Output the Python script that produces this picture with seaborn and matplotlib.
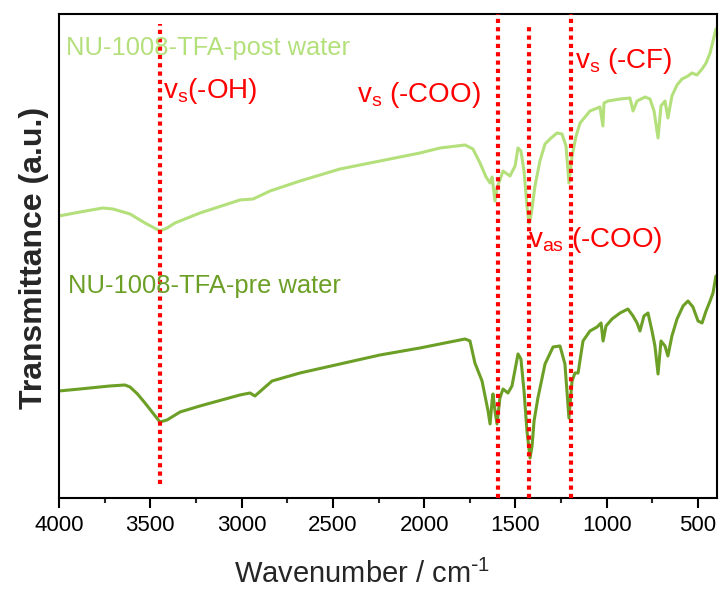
import matplotlib
matplotlib.use("Agg")
import matplotlib.pyplot as plt
import seaborn as sns
import pandas as pd
from matplotlib.ticker import MultipleLocator

# ---------------- data ----------------
series_names = ["NU-1008-TFA-post water", "NU-1008-TFA-pre water"]

post_wn = [4000, 3885, 3759, 3704, 3611, 3529, 3447, 3408, 3365, 3228, 3009, 2937,
           2844, 2680, 2461, 2242, 2023, 1913, 1776, 1733, 1694, 1661, 1639, 1628,
           1612, 1601, 1568, 1530, 1502, 1486, 1470, 1453, 1437, 1426, 1415, 1393,
           1366, 1338, 1305, 1272, 1245, 1223, 1207, 1190, 1168, 1146, 1092, 1037,
           1021, 1015, 993, 927, 873, 856, 834, 790, 763, 741, 719, 703, 681, 665,
           643, 615, 588, 555, 533, 506, 478, 456, 434, 418, 402]
post_t = [282, 286, 290, 289, 284, 275, 267, 270, 275, 285, 298, 299,
          307, 317, 329, 337, 345, 350, 353, 349, 335, 321, 315, 321,
          297, 310, 327, 322, 332, 350, 347, 327, 292, 275, 282, 312,
          337, 354, 360, 365, 364, 352, 315, 342, 362, 375, 387, 391,
          372, 395, 397, 399, 400, 387, 397, 401, 399, 387, 360, 392, 397, 380,
          402, 413, 419, 422, 425, 423, 429, 435, 445, 457, 469]

pre_wn = [4000, 3885, 3721, 3639, 3611, 3570, 3529, 3447, 3408, 3337, 3228, 3009, 2954,
          2927, 2833, 2680, 2461, 2242, 2023, 1859, 1776, 1749, 1722, 1683, 1650,
          1639, 1628, 1623, 1612, 1601, 1585, 1568, 1541, 1519, 1486, 1470, 1453,
          1437, 1420, 1409, 1398, 1377, 1338, 1294, 1256, 1229, 1207, 1190, 1174,
          1157, 1130, 1092, 1053, 1031, 1020, 1004, 971, 927, 884, 856, 834, 818,
          796, 774, 752, 736, 719, 703, 681, 665, 643, 615, 582, 555, 528, 500,
          478, 456, 434, 418, 402]
pre_t = [107, 109, 112, 113, 111, 104, 95, 76, 78, 86, 92, 103, 105,
         102, 117, 125, 134, 143, 150, 156, 159, 157, 135, 117, 87,
         74, 97, 104, 87, 74, 100, 109, 105, 112, 144, 139, 107,
         67, 40, 52, 77, 100, 134, 151, 152, 134, 80, 117, 125,
         125, 157, 167, 171, 175, 157, 172, 179, 185, 189, 182, 175, 167,
         182, 185, 167, 152, 124, 157, 152, 142, 162, 179, 192, 197, 191, 177,
         175, 187, 197, 205, 222]

band_positions = [3447, 1598, 1426, 1196]
band_labels = ["v$_{s}$(-OH)", "v$_{s}$ (-COO)", "v$_{as}$ (-COO)", "v$_{s}$ (-CF)"]
x_ticks = [4000, 3500, 3000, 2500, 2000, 1500, 1000, 500]

# ---------------- styling ----------------
post_color = "#B4E07C"
pre_color = "#6C9F26"
red = "#FF0000"

sns.set_style("white")
plt.rcParams["font.family"] = ["Liberation Sans", "DejaVu Sans"]
plt.rcParams["mathtext.default"] = "regular"

df = pd.concat([
    pd.DataFrame({"wn": post_wn, "t": post_t, "sample": series_names[0]}),
    pd.DataFrame({"wn": pre_wn, "t": pre_t, "sample": series_names[1]}),
], ignore_index=True)

fig = plt.figure(figsize=(7.22, 5.91), dpi=100)
ax = fig.add_axes([0.0817, 0.1574, 0.9114, 0.8189])

sns.lineplot(data=df, x="wn", y="t", hue="sample",
             palette={series_names[0]: post_color, series_names[1]: pre_color},
             estimator=None, linewidth=2.2, legend=False, ax=ax)

# dotted marker lines for band assignments
band_spans = [(14, 474), (0, 484), (0, 474), (0, 484)]
for pos, (y0, y1) in zip(band_positions, band_spans):
    ax.plot([pos, pos], [y0, y1], color=red, linestyle=(0, (1, 1)), linewidth=3.0, zorder=3)

ax.set_xlim(4000, 396)
ax.set_ylim(0, 484)
ax.set_xticks(x_ticks)
ax.set_xticklabels([str(t) for t in x_ticks])
ax.xaxis.set_minor_locator(MultipleLocator(250))
ax.set_yticks([])

ax.tick_params(axis="x", which="major", direction="out", length=7, width=1.5,
               labelsize=16, pad=5, colors="black", bottom=True, top=False)
ax.tick_params(axis="x", which="minor", direction="out", length=3.5, width=1.5,
               bottom=True, top=False)
for sp in ax.spines.values():
    sp.set_visible(True)
    sp.set_linewidth(1.5)
    sp.set_color("black")

ax.set_xlabel("Wavenumber / cm$^{\\text{-}1}$", fontsize=21)
ax.xaxis.set_label_coords(0.461, -0.128)
ax.set_ylabel("Transmittance (a.u.)", fontsize=23, fontweight="bold")
ax.yaxis.set_label_coords(-0.015, 0.497)

# sample labels
ax.text(3962, 450, series_names[0], color=post_color, fontsize=18.4, va="center", ha="left")
ax.text(3951, 212, series_names[1], color=pre_color, fontsize=18.4, va="center", ha="left")

# band annotations
ax.text(3430, 400, band_labels[0], color=red, fontsize=20, va="baseline", ha="left")
ax.text(2368, 396, band_labels[1], color=red, fontsize=20, va="baseline", ha="left")
ax.text(1431, 251, band_labels[2], color=red, fontsize=20, va="baseline", ha="left")
ax.text(1174, 430, band_labels[3], color=red, fontsize=20, va="baseline", ha="left")

fig.savefig("out.png", dpi=100)
